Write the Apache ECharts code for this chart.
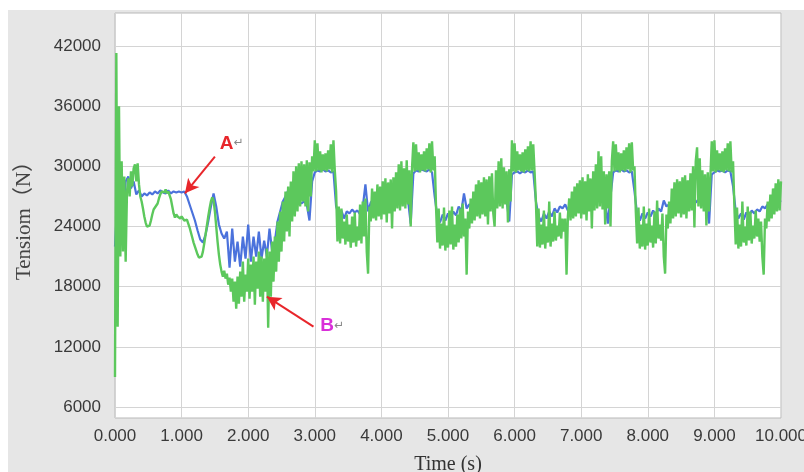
<!DOCTYPE html>
<html><head><meta charset="utf-8">
<script src="https://cdn.jsdelivr.net/npm/echarts@6/dist/echarts.min.js"></script>
<style>html,body{margin:0;padding:0;background:#fff}#c{width:804px;height:472px}</style>
</head><body><div id="c"></div>
<script>
// ---- axis ticks ----
const yTicks = [6000, 12000, 18000, 24000, 30000, 36000, 42000];
const xTickStep = 1;
const xLabelDecimals = 3;

// ---- green series (sample every 0.02 s), one array per second ----
const greenDt = 0.02;
const greenS0 = [9000,41300,14000,36000,21000,30500,21500,29000,20500,27500,
28800,27000,29500,28000,29800,30200,28500,30300,28200,27000,
26500,25800,25000,24400,24000,23900,24100,24600,25200,25700,
25900,26000,26300,26800,27200,27500,27600,27400,27700,27300,
27500,27100,26700,26000,25300,24900,25200,25000,25100,24800];
const greenS1 = [25000,24800,24600,24500,24700,24300,23900,23400,22900,22400,
22000,21600,21200,20900,20800,21000,21500,22300,23200,24100,
25000,25800,26500,26900,26600,25500,24000,22500,21200,20200,
19500,19000,19600,18800,19300,18200,18900,17500,18800,16500,
18500,15800,19000,16300,19500,17000,20500,16500,19200,17500];
const greenS2 = [20800,16800,20200,17500,21000,16200,20500,17800,21500,17000,
21000,16500,20800,17500,21800,13900,21500,17000,22500,18500,
23000,19500,24500,20500,25500,21500,26500,22500,27500,23500,
28000,23000,28500,24500,29500,25000,30000,25500,30300,26000,
30500,26500,30200,26000,30600,25500,30400,27000,31000,29500];
const greenS3 = [32600,29500,32300,29600,31500,29400,31200,29600,31300,29500,
31600,29700,32200,29400,32600,29600,27500,22500,26000,22300,
25800,22800,24500,22200,25200,22500,24200,21900,25000,22400,
25400,22000,24000,22600,26200,22300,26500,23000,26800,21500,
19300,26000,24500,27800,24800,27500,24600,28200,25000,28000];
const greenS4 = [24700,28500,25200,28800,24400,28400,25300,28700,23800,28900,
25500,29400,25800,30200,25600,30500,26000,29800,25800,30600,
26200,29600,24000,29800,32400,29500,32200,29600,31400,29400,
31200,29600,31500,29500,31800,29700,32300,29400,32500,29600,
31000,26000,22400,25800,21800,24300,22100,25900,21600,24100];
const greenS5 = [21900,25600,22200,26000,21700,24200,22000,25200,22400,25800,
22800,26300,23000,24800,19200,25500,23800,26800,24300,27500,
24600,28200,25000,28600,24800,28400,25200,28900,25000,28700,
24200,29000,25500,29300,25300,24000,29600,25800,30500,26000,
30800,25800,29900,26200,29500,24400,29700,26500,32600,29500];
const greenS6 = [32300,29400,31500,29600,31200,29500,31400,29400,31700,29600,
32000,29500,32500,29600,32200,29400,26500,22000,25800,21900,
24200,22200,25600,21800,24000,22400,26500,22000,24300,22500,
25500,22600,24100,23000,25400,22800,24800,23500,24800,19200,
25000,26800,24600,27500,24800,28000,25000,28300,25300,28600];
const greenS7 = [24800,28900,25200,28500,24600,29200,25500,28800,23800,29500,
25600,30200,25800,31500,26000,31000,25700,29500,24200,29200,
25800,29500,24000,30500,32500,29500,32200,29600,31400,29400,
31300,29600,31600,29500,31900,29700,32300,29400,32400,29600,
30000,25500,22300,25900,21800,24200,22000,26000,21700,24300];
const greenS8 = [22100,25800,22400,24100,21900,25500,22300,26600,22800,24200,
22600,25300,21000,19300,25200,23800,26500,24300,27800,24800,
28400,25000,28700,25300,28500,24900,28900,25200,29100,24800,
28600,25500,29300,25600,30000,23900,30500,31900,26000,30800,
25800,29600,25500,29200,24100,29400,25500,29000,32500,29500];
const greenS9 = [32600,29400,31600,29600,31300,29500,31500,29400,31800,29600,
32300,29500,32500,29400,30500,26000,22200,25900,21800,24200,
22000,26500,22400,24000,22100,26000,22600,25500,22300,24100,
22800,25600,23000,24800,22500,24500,21000,19200,24800,23800,
26500,24500,27200,24800,27800,25200,28300,25500,28700,25600,
28500];

// ---- blue series (sample every 0.04 s), one array per second ----
const blueDt = 0.04;
const blueS0 = [22000,27000,25000,24500,28500,29000,27800,28500,27200,27600,27000,27300,27100,27400,27200,27500,27300,27600,27400,27300,27600,27300,27500,27400,27500];
const blueS1 = [27400,27500,27000,26200,25400,24600,23600,22700,22400,23200,24500,26000,27300,26000,24200,23300,22800,23500,19900,23800,20500,22500,20000,23000,20800];
const blueS2 = [24200,20500,23000,21000,23500,20800,22600,21000,23800,21500,22500,24500,25500,26500,27000,27600,27200,27800,27500,26600,26300,26500,26200,24600,28500];
const blueS3 = [29400,29600,29500,29700,29500,29600,29400,29500,26000,25200,25600,24800,25500,25300,25700,25400,25600,25200,25900,28200,25500,26400,26700,26500,26800];
const blueS4 = [26500,26700,26400,26800,26600,26900,26600,26800,26500,26700,26600,24300,29300,29600,29500,29700,29600,29500,29700,29400,27000,25000,24400,25200,24600];
const blueS5 = [25300,24800,25500,25100,26000,25500,27300,25800,26200,26000,26400,26200,26500,26300,26600,26400,26500,26300,26600,26400,26700,26500,26600,24500,29200];
const blueS6 = [29400,29500,29300,29500,29400,29600,29400,29500,26500,25000,24500,25300,24800,25500,25000,25800,25400,26000,25800,26200,25600,26300,26100,26400,26200];
const blueS7 = [26500,26300,26600,26400,26700,26500,26800,26600,26700,26500,24300,27000,29400,29600,29500,29700,29500,29600,29400,29500,27500,25200,24600,25300,24800];
const blueS8 = [25400,25000,25600,25200,25800,25500,26600,26000,26200,26400,26200,26500,26300,26600,26400,26700,26500,26600,26400,26700,26500,26600,26400,24300,29200];
const blueS9 = [29400,29600,29500,29600,29400,29600,29500,28000,25500,24800,25300,24700,25400,25000,25600,25300,25700,25500,26000,25800,26200,26400,26300,26500,26400,26600];

// ---- annotations (data coordinates) ----
const annotA = { text: 'A', from: [1.50, 30965], to: [1.05, 27314], at: [1.75, 32300] };
const annotB = { text: 'B', from: [2.98, 14007], to: [2.28, 17000], at: [3.26, 14127] };

const greenVals = [].concat(greenS0, greenS1, greenS2, greenS3, greenS4, greenS5, greenS6, greenS7, greenS8, greenS9);
const blueVals = [].concat(blueS0, blueS1, blueS2, blueS3, blueS4, blueS5, blueS6, blueS7, blueS8, blueS9);
const greenData = greenVals.map((v, i) => [+(i * greenDt).toFixed(2), v]);
const blueData = blueVals.map((v, i) => [+(i * blueDt).toFixed(2), v]);

const chart = echarts.init(document.getElementById('c'), null, { renderer: 'canvas' });
const option = {
  backgroundColor: '#e6e6e6',
  animation: false,
  graphic: [
    { type: 'rect', left: 0, top: 0, shape: { width: 804, height: 10 }, style: { fill: '#ffffff' }, silent: true },
    { type: 'rect', left: 0, top: 0, shape: { width: 8, height: 472 }, style: { fill: '#ffffff' }, silent: true }
  ],
  grid: { left: 115, right: 23, top: 13, bottom: 54, outerBoundsMode: 'none', containLabel: false,
          show: true, backgroundColor: '#ffffff', borderColor: '#b8b8b8', borderWidth: 1 },
  xAxis: {
    type: 'value', min: 0, max: 10, interval: xTickStep,
    axisLine: { show: false }, axisTick: { show: false },
    axisLabel: { formatter: v => v.toFixed(xLabelDecimals), color: '#3a3a3a', fontSize: 17, fontFamily: 'Liberation Sans', margin: 10, showMaxLabel: true },
    splitLine: { show: true, lineStyle: { color: '#d4d4d4', width: 1 } },
    name: 'Time (s)', nameLocation: 'middle', nameGap: 37,
    nameTextStyle: { fontFamily: 'Liberation Serif', fontSize: 20, color: '#333' }
  },
  yAxis: {
    type: 'value', min: 4900, max: 45300,
    axisLine: { show: false },
    axisTick: { show: false, customValues: yTicks },
    axisLabel: { customValues: yTicks, formatter: v => String(v), color: '#3a3a3a', fontSize: 17, fontFamily: 'Liberation Sans', margin: 14 },
    splitLine: { show: true, lineStyle: { color: '#d4d4d4', width: 1 } },
    name: 'Tensiom（N）', nameLocation: 'middle', nameGap: 80, nameRotate: 90,
    nameTextStyle: { fontFamily: "'Liberation Serif','Noto Sans CJK SC',serif", fontSize: 21, color: '#444' }
  },
  series: [
    {
      type: 'line', data: blueData, showSymbol: false, symbol: 'none', z: 2,
      lineStyle: { color: '#4b72dc', width: 2.2 }, itemStyle: { color: '#4b72dc' }, silent: true
    },
    {
      type: 'line', data: greenData, showSymbol: false, symbol: 'none', z: 3,
      lineStyle: { color: '#5cc85c', width: 2.4 }, itemStyle: { color: '#5cc85c' }, silent: true,
      markLine: {
        silent: true, symbol: ['none', 'arrow'], symbolSize: [11, 14], animation: false,
        label: { show: false },
        lineStyle: { color: '#e8262b', width: 2, type: 'solid' },
        emphasis: { disabled: true },
        data: [
          [{ coord: annotA.from }, { coord: annotA.to }],
          [{ coord: annotB.from }, { coord: annotB.to }]
        ]
      },
      markPoint: {
        silent: true, symbol: 'rect', symbolSize: 1, itemStyle: { color: 'rgba(0,0,0,0)' },
        animation: false,
        label: {
          show: true, position: 'inside',
          rich: {
            a: { color: '#e8262b', fontWeight: 'bold', fontSize: 19, fontFamily: 'Liberation Sans' },
            b: { color: '#d92fd9', fontWeight: 'bold', fontSize: 19, fontFamily: 'Liberation Sans' },
            r: { color: '#888', fontSize: 12, fontFamily: 'DejaVu Sans' }
          }
        },
        data: [
          { coord: annotA.at, label: { formatter: '{a|' + annotA.text + '}{r|↵}' } },
          { coord: annotB.at, label: { formatter: '{b|' + annotB.text + '}{r|↵}' } }
        ]
      }
    }
  ]
};
chart.setOption(option);
</script>
</body></html>
